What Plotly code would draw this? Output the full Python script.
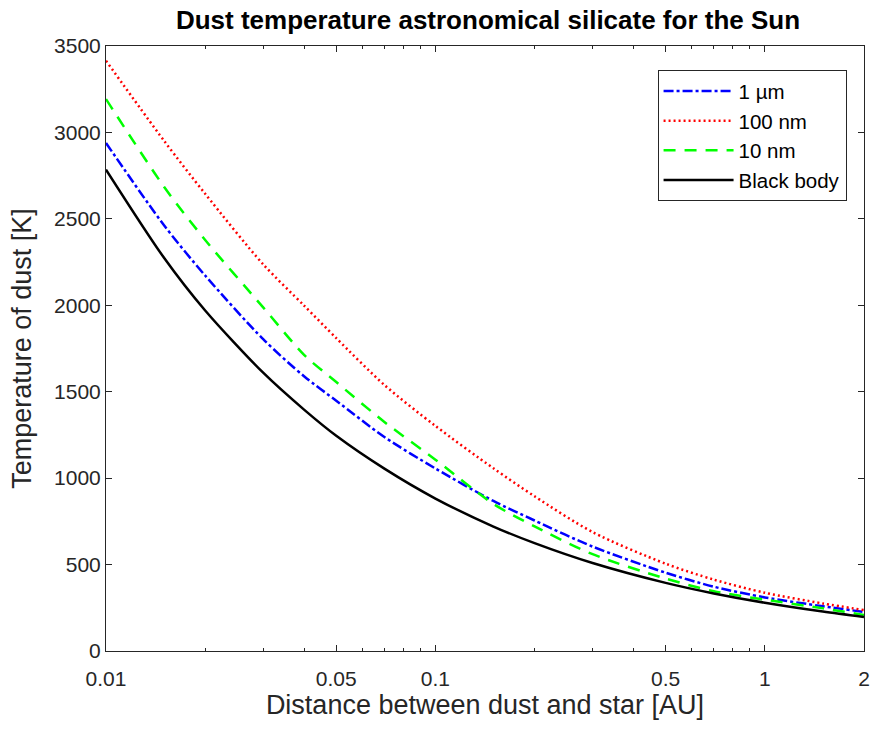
import plotly.graph_objects as go

distance_au = [0.01, 0.015, 0.02, 0.03, 0.04, 0.05, 0.07, 0.1, 0.15, 0.2, 0.3, 0.5, 0.7, 1.0, 1.5, 2.0]
temp_1um = [2939, 2463, 2172, 1804, 1588, 1448, 1238, 1056, 868, 755, 604, 453, 372, 310, 259, 226]
temp_100nm = [3415, 2952, 2645, 2237, 1997, 1810, 1539, 1302, 1057, 895, 688, 505, 413, 337, 275, 237]
temp_10nm = [3193, 2686, 2378, 1988, 1712, 1556, 1325, 1107, 851, 721, 560, 419, 346, 297, 247, 208]
temp_blackbody = [2785, 2275, 1970, 1610, 1395, 1245, 1055, 882, 720, 624, 509, 394, 333, 279, 228, 197]

x_tick_vals = [0.01, 0.05, 0.1, 0.5, 1, 2]
x_tick_text = ["0.01", "0.05", "0.1", "0.5", "1", "2"]
x_minor_vals = [0.02, 0.03, 0.04, 0.06, 0.07, 0.08, 0.09, 0.2, 0.3, 0.4, 0.6, 0.7, 0.8, 0.9]
y_tick_vals = [0, 500, 1000, 1500, 2000, 2500, 3000, 3500]

series = [
    ("1 µm", temp_1um, "#0000ff", "10px,3px,3px,3px"),
    ("100 nm", temp_100nm, "#ff0000", "2px,3px"),
    ("10 nm", temp_10nm, "#00ff00", "12px,9px"),
    ("Black body", temp_blackbody, "#000000", "solid"),
]

fig = go.Figure()
for name, vals, color, dash in series:
    fig.add_trace(go.Scatter(
        x=distance_au, y=vals, name=name, mode="lines",
        line=dict(color=color, width=2.5, dash=dash, shape="spline", smoothing=0.8),
    ))

axis_color = "#262626"
W, H = 877, 729
fig.update_layout(
    width=W, height=H,
    margin=dict(l=106, r=7, t=46, b=78),
    paper_bgcolor="white", plot_bgcolor="white",
    font=dict(family="Liberation Sans, Arial, sans-serif", color=axis_color, size=21),
    title=dict(text="<b>Dust temperature astronomical silicate for the Sun</b>",
               x=488 / W, xanchor="center", y=1 - 20 / H, yanchor="middle",
               font=dict(size=26, color="black")),
    legend=dict(x=0.977, xanchor="right", y=0.960, yanchor="top",
                bordercolor=axis_color, borderwidth=1, bgcolor="white",
                font=dict(size=20.5, color="black"), itemwidth=70,
                tracegroupgap=0),
    showlegend=True,
)
fig.update_xaxes(
    type="log", range=[-2, 0.3011],
    tickmode="array", tickvals=x_tick_vals, ticktext=x_tick_text,
    ticks="inside", ticklen=6, tickcolor=axis_color,
    minor=dict(tickmode="array", tickvals=x_minor_vals, ticks="inside", ticklen=3, tickcolor=axis_color),
    showline=True, linecolor=axis_color, linewidth=1, mirror="allticks",
    showgrid=False, zeroline=False,
    ticklabelstandoff=9,
    title=dict(text="Distance between dust and star [AU]", font=dict(size=27), standoff=0),
    tickfont=dict(size=21),
)
fig.update_yaxes(
    range=[0, 3500], tickmode="array", tickvals=y_tick_vals,
    ticks="inside", ticklen=6, tickcolor=axis_color,
    showline=True, linecolor=axis_color, linewidth=1, mirror="allticks",
    showgrid=False, zeroline=False,
    title=dict(text="Temperature of dust [K]", font=dict(size=27), standoff=14),
    tickfont=dict(size=21),
)

fig.write_html("out.html", config={"displayModeBar": False},
               post_script="document.body.style.margin='0';document.body.style.overflow='hidden';")
